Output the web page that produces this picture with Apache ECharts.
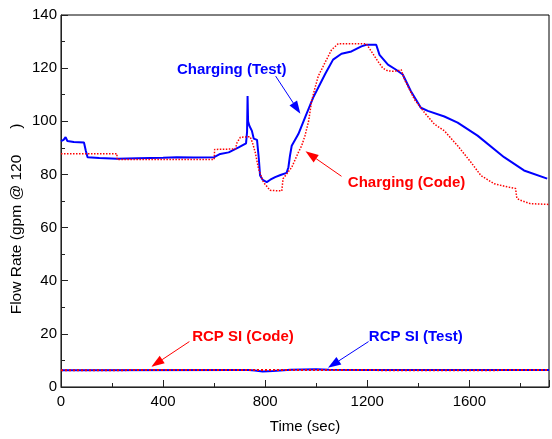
<!DOCTYPE html>
<html>
<head>
<meta charset="utf-8">
<script src="https://cdn.jsdelivr.net/npm/echarts@6/dist/echarts.min.js"></script>
<style>
html,body{margin:0;padding:0;background:#fff;}
#c{width:552px;height:439px;}
</style>
</head>
<body>
<div id="c"></div>
<script>
// ---- data (time in sec, flow in gpm) ----
const chargingTest = [[0,92.5],[10,93],[18,94],[25,92.6],[50,92.2],[90,92],[97,89],[104,86.5],[150,86.2],[220,85.9],[300,86.1],[400,86.3],[454,86.5],[520,86.4],[600,86.5],[624,87.7],[657,88.3],[696,90.2],[725,91.7],[729,96],[731,109.5],[733,100],[738,98.3],[748,96.4],[755,93.5],[761,94],[768,93],[775,86],[780,79.6],[790,78],[806,77.1],[820,78],[839,79],[860,79.8],[884,80.6],[891,82.7],[897,87],[904,90.8],[930,95.2],[956,101.4],[988,108.9],[1036,118],[1066,123.2],[1099,125.4],[1138,126.3],[1177,128.2],[1196,128.8],[1235,128.8],[1248,125],[1281,121.3],[1313,119.4],[1339,117.6],[1371,111.3],[1410,105.1],[1437,103.9],[1502,101.8],[1554,99.5],[1632,94.6],[1736,86.5],[1814,81.5],[1905,78.4]];
const chargingCode = [[0,87.8],[219,87.8],[220,85.6],[600,85.6],[602,89.4],[683,89.6],[690,92],[703,94],[741,94.2],[750,92],[761,88.3],[774,82.1],[793,77.1],[819,74],[865,73.8],[870,78.4],[904,82.7],[930,88.3],[943,90.8],[956,94.6],[970,100],[982,107.6],[995,112.5],[1008,117],[1034,122],[1060,126.9],[1086,129.2],[1196,129.2],[1216,126.3],[1242,122.5],[1261,120],[1280,119],[1300,118.8],[1320,119],[1333,119.4],[1346,115.7],[1385,108.2],[1424,103.3],[1463,98.9],[1502,96.4],[1554,90.8],[1606,84.6],[1645,79.6],[1697,76.5],[1740,75.5],[1781,74.7],[1786,71],[1800,70.3],[1839,69],[1912,68.7]];
const rcpTest = [[0,6.3],[700,6.4],[725,6.4],[730,7.1],[735,6.4],[760,6.2],[790,5.8],[830,6.0],[900,6.5],[1000,6.7],[1050,6.5],[1200,6.4],[1912,6.4]];
const rcpCode = [[0,6.3],[500,6.4],[1000,6.4],[1500,6.3],[1912,6.4]];
const xTicks = [0,400,800,1200,1600];
const yTicks = [0,20,40,60,80,100,120,140];
const annotations = [
  {text:'Charging (Test)', color:'#0000ff', label:[669,119.5], tail:[841,117], tip:[938,102.8]},
  {text:'Charging (Code)', color:'#ff0000', label:[1354,76.7], tail:[1099,79.3], tip:[958,88.7]},
  {text:'RCP SI (Code)', color:'#ff0000', label:[713,19], tail:[503,17.1], tip:[354,7.6]},
  {text:'RCP SI (Test)', color:'#0000ff', label:[1390,19], tail:[1205,17.1], tip:[1046,7.2]}
];

const FONT = '"Liberation Sans", Arial, sans-serif';
const chart = echarts.init(document.getElementById('c'));
const XMAX = 1912;
chart.setOption({
  animation:false,
  backgroundColor:'#fff',
  grid:{left:61, top:15, right:0, bottom:48, show:true, borderColor:'#000', borderWidth:1},
  xAxis:[{
    type:'value', min:0, max:XMAX, interval:400,
    axisLine:{show:true, lineStyle:{color:'#222', width:1}},
    axisTick:{show:true, inside:true, length:7, lineStyle:{color:'#222'}},
    axisLabel:{color:'#000', fontSize:15, fontFamily:FONT, margin:7,
      formatter:v => xTicks.includes(v) ? String(v) : ''},
    splitLine:{show:false},
    name:'Time (sec)', nameLocation:'middle', nameGap:32,
    nameTextStyle:{color:'#000', fontSize:15, fontFamily:FONT}
  },{
    type:'value', min:0, max:XMAX, interval:200, position:'bottom',
    axisLine:{show:false},
    axisTick:{show:true, inside:true, length:4, lineStyle:{color:'#222'}},
    axisLabel:{show:false}, splitLine:{show:false}
  }],
  yAxis:{
    type:'value', min:0, max:140, interval:20,
    axisLine:{show:true, lineStyle:{color:'#222', width:1}},
    axisTick:{show:true, inside:true, length:7, lineStyle:{color:'#222'}},
    minorTick:{show:true, splitNumber:2, length:4, lineStyle:{color:'#222'}},
    axisLabel:{color:'#000', fontSize:15, fontFamily:FONT, margin:4,
      formatter:v => yTicks.includes(v) ? String(v) : ''},
    splitLine:{show:false}
  },
  series:[
    {type:'line', data:chargingTest, showSymbol:false, lineStyle:{color:'#0000ff', width:2}, z:2},
    {type:'line', data:chargingCode, showSymbol:false, lineStyle:{color:'#ff0000', width:1.5, type:'dotted'}, z:3},
    {type:'line', data:rcpTest, showSymbol:false, lineStyle:{color:'#0000ff', width:2}, z:2},
    {type:'line', data:rcpCode, showSymbol:false, lineStyle:{color:'#ff0000', width:2, type:'dotted'}, z:3}
  ]
});

const g = [];
g.push({type:'text', x:17, y:219, rotation:Math.PI/2,
  style:{text:'Flow Rate (gpm @ 120      )', fill:'#000', font:'15.5px ' + FONT, align:'center', verticalAlign:'middle'}});
annotations.forEach(a => {
  const lp = chart.convertToPixel({gridIndex:0}, a.label);
  const t0 = chart.convertToPixel({gridIndex:0}, a.tail);
  const t1 = chart.convertToPixel({gridIndex:0}, a.tip);
  const dx = t1[0]-t0[0], dy = t1[1]-t0[1];
  const len = Math.sqrt(dx*dx+dy*dy);
  const ux = dx/len, uy = dy/len;
  const hl = 13, hw = 4.5;
  const bx = t1[0]-ux*hl, by = t1[1]-uy*hl;
  g.push({type:'line', shape:{x1:t0[0], y1:t0[1], x2:bx, y2:by}, style:{stroke:a.color, lineWidth:1}, z:10});
  g.push({type:'polygon', shape:{points:[[t1[0],t1[1]],[bx-uy*hw,by+ux*hw],[bx+uy*hw,by-ux*hw]]}, style:{fill:a.color}, z:10});
  g.push({type:'text', x:lp[0], y:lp[1], z:10,
    style:{text:a.text, fill:a.color, font:'bold 15px ' + FONT, align:'center', verticalAlign:'middle'}});
});
chart.setOption({graphic:g});
</script>
</body>
</html>
